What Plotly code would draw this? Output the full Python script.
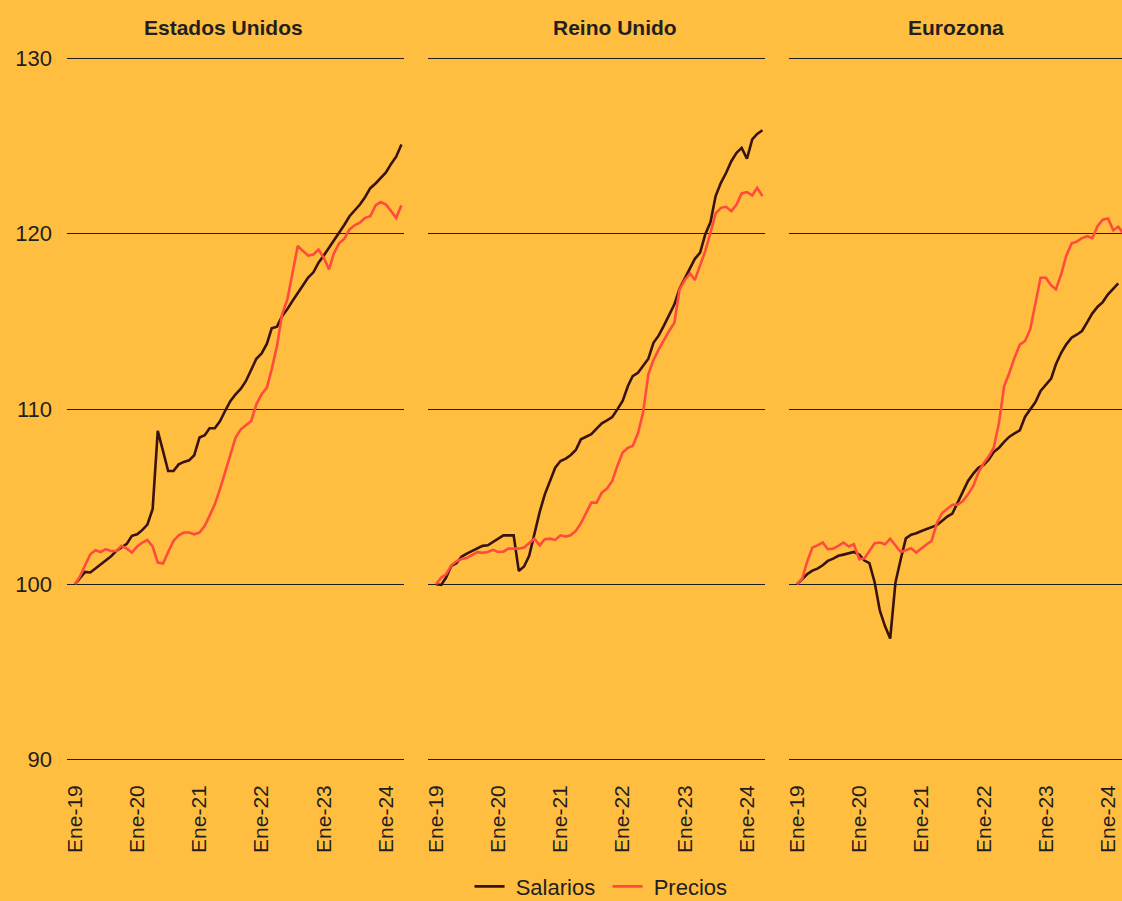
import pandas as pd
import plotly.graph_objects as go

# Monthly index, January 2019 = 100
meses = pd.date_range("2019-01-01", "2024-04-01", freq="MS")

paises = ["Estados Unidos", "Reino Unido", "Eurozona"]

salarios_eeuu = [
    100.0, 100.4, 100.7, 100.67, 100.9, 101.14, 101.37, 101.6, 101.9, 102.1,
    102.3, 102.76, 102.85, 103.1, 103.4, 104.3, 108.75, 107.6, 106.46, 106.46,
    106.84, 106.98, 107.07, 107.36, 108.37, 108.5, 108.9, 108.9, 109.3, 109.9,
    110.45, 110.84, 111.16, 111.6, 112.3, 112.87, 113.17, 113.73, 114.6, 114.7,
    115.3, 115.7, 116.16, 116.6, 117.07, 117.5, 117.8, 118.35, 118.76, 119.2,
    119.6, 120.06, 120.5, 121.0, 121.3, 121.67, 122.1, 122.6, 122.87, 123.2,
    123.5, 124.0, 124.4, 125.1,
]
precios_eeuu = [
    100.0, 100.48, 101.08, 101.71, 101.94, 101.84, 102.0, 101.9, 101.9, 102.19,
    102.03, 101.81, 102.15, 102.38, 102.53, 102.15, 101.24, 101.18, 101.84, 102.47,
    102.79, 102.95, 102.95, 102.85, 102.95, 103.33, 103.9, 104.56, 105.42, 106.37,
    107.41, 108.37, 108.84, 109.07, 109.32, 110.27, 110.84, 111.22, 112.26, 113.59,
    115.4, 116.25, 117.78, 119.3, 119.01, 118.76, 118.82, 119.1, 118.63, 117.97,
    118.88, 119.45, 119.71, 120.25, 120.48, 120.63, 120.91, 121.0, 121.62, 121.81,
    121.67, 121.29, 120.91, 121.62,
]

salarios_ru = [
    100.0, 99.96, 100.38, 101.05, 101.2, 101.58, 101.75, 101.9, 102.09, 102.19,
    102.22, 102.41, 102.6, 102.79, 102.79, 102.79, 100.76, 101.01, 101.62, 102.85,
    104.13, 105.13, 105.89, 106.65, 107.03, 107.17, 107.36, 107.66, 108.27, 108.4,
    108.56, 108.88, 109.18, 109.35, 109.54, 109.98, 110.46, 111.31, 111.88, 112.07,
    112.45, 112.87, 113.78, 114.2, 114.77, 115.4, 115.97, 116.86, 117.43, 118.0,
    118.57, 118.92, 119.96, 120.67, 122.15, 122.91, 123.48, 124.14, 124.62, 124.9,
    124.28, 125.38, 125.7, 125.91,
]
precios_ru = [
    100.0, 100.38, 100.57, 101.08, 101.31, 101.44, 101.5, 101.65, 101.83, 101.79,
    101.84, 101.96, 101.84, 101.86, 102.03, 102.03, 102.03, 102.09, 102.34, 102.6,
    102.22, 102.57, 102.6, 102.53, 102.79, 102.72, 102.79, 103.04, 103.48, 104.13,
    104.66, 104.66, 105.23, 105.46, 105.89, 106.75, 107.51, 107.78, 107.89, 108.61,
    109.79, 111.98, 112.79, 113.4, 113.97, 114.45, 114.92, 116.82, 117.36, 117.74,
    117.36, 118.16, 119.01, 120.06, 121.16, 121.48, 121.54, 121.29, 121.67, 122.3,
    122.38, 122.19, 122.62, 122.15,
]

salarios_ez = [
    100.0, 100.29, 100.57, 100.78, 100.89, 101.08, 101.33, 101.46, 101.62, 101.69,
    101.77, 101.84, 101.7, 101.35, 101.2, 100.1, 98.5, 97.6, 96.9, 100.1,
    101.43, 102.62, 102.83, 102.91, 103.04, 103.16, 103.27, 103.37, 103.61, 103.86,
    104.03, 104.66, 105.32, 105.89, 106.31, 106.65, 106.81, 107.13, 107.55, 107.79,
    108.12, 108.42, 108.61, 108.78, 109.56, 109.98, 110.4, 111.03, 111.35, 111.73,
    112.55, 113.21, 113.69, 114.07, 114.24, 114.45, 114.96, 115.46, 115.84, 116.1,
    116.54, 116.86, 117.17,
]
precios_ez = [
    100.0, 100.32, 101.27, 102.09, 102.22, 102.38, 102.0, 102.03, 102.19, 102.38,
    102.15, 102.28, 101.43, 101.48, 101.9, 102.34, 102.38, 102.28, 102.6, 102.19,
    101.84, 101.94, 102.05, 101.81, 102.07, 102.28, 102.47, 103.48, 104.05, 104.32,
    104.54, 104.54, 104.75, 105.13, 105.61, 106.37, 106.9, 107.32, 107.79, 109.22,
    111.31, 112.07, 112.93, 113.67, 113.88, 114.54, 115.97, 117.49, 117.49, 117.05,
    116.83, 117.7, 118.75, 119.45, 119.55, 119.75, 119.86, 119.75, 120.45, 120.8,
    120.87, 120.2, 120.4, 120.0,
]

ticks_y = [90, 100, 110, 120, 130]
ticks_x = pd.date_range("2019-01-01", "2024-01-01", freq="YS")
etiquetas_x = ["Ene-19", "Ene-20", "Ene-21", "Ene-22", "Ene-23", "Ene-24"]

FONDO = "#FFBE3F"
COLOR_SAL = "#3A1210"
COLOR_PRE = "#FF4B3E"
TEXTO = "#231F20"
FUENTE = "Liberation Sans, Arial, sans-serif"

W, H = 1122, 901
dominios = [(67 / W, 404 / W), (428 / W, 765 / W), (789 / W, 1.0)]
rangos_x = [
    ("2018-11-15", "2024-04-16"),
    ("2018-11-15", "2024-04-16"),
    ("2018-11-15", "2024-03-23"),
]
titulo_x = [223 / W, 614.5 / W, 956 / W]

series = [
    (salarios_eeuu, precios_eeuu),
    (salarios_ru, precios_ru),
    (salarios_ez, precios_ez),
]

fig = go.Figure()
for i, (sal, pre) in enumerate(series):
    sufijo = "" if i == 0 else str(i + 1)
    fig.add_trace(go.Scatter(
        x=meses[:len(sal)], y=sal, mode="lines", name=" Salarios",
        line=dict(color=COLOR_SAL, width=2.6),
        xaxis="x" + sufijo, yaxis="y" + sufijo,
        showlegend=(i == 0), legendgroup="sal",
    ))
    fig.add_trace(go.Scatter(
        x=meses[:len(pre)], y=pre, mode="lines", name=" Precios",
        line=dict(color=COLOR_PRE, width=2.6),
        xaxis="x" + sufijo, yaxis="y" + sufijo,
        showlegend=(i == 0), legendgroup="pre",
    ))

ejes = {}
for i in range(3):
    sufijo = "" if i == 0 else str(i + 1)
    ejes["xaxis" + sufijo] = dict(
        domain=list(dominios[i]), anchor="y" + sufijo, type="date",
        range=list(rangos_x[i]), tickvals=list(ticks_x), ticktext=etiquetas_x,
        tickangle=-90, showgrid=False, zeroline=False, showline=False,
        ticks="", ticklabelstandoff=3, automargin=False,
        tickfont=dict(family=FUENTE, size=21, color=TEXTO),
    )
    ejes["yaxis" + sufijo] = dict(
        domain=[0, 1], anchor="x" + sufijo, range=[89, 131],
        tickvals=ticks_y, showticklabels=(i == 0),
        showgrid=True, gridcolor="#1E1E1E", gridwidth=1,
        zeroline=False, showline=False, ticks="", ticklabelstandoff=14,
        automargin=False,
        tickfont=dict(family=FUENTE, size=22, color=TEXTO),
    )

fig.update_layout(
    width=W, height=H,
    paper_bgcolor=FONDO, plot_bgcolor=FONDO,
    margin=dict(l=0, r=0, t=41, b=124, pad=0, autoexpand=False),
    font=dict(family=FUENTE, size=21, color=TEXTO),
    showlegend=True,
    legend=dict(
        orientation="h", x=0.5415, xanchor="center",
        yref="container", y=0.016, yanchor="middle",
        font=dict(family=FUENTE, size=22, color=TEXTO),
        bgcolor="rgba(0,0,0,0)", itemwidth=30,
        entrywidth=93, entrywidthmode="pixels",
    ),
    annotations=[
        dict(text="<b>%s</b>" % p, x=titulo_x[i], xref="paper", xanchor="center",
             y=1 + (41 - 28) / 736, yref="paper", yanchor="middle",
             showarrow=False, font=dict(family=FUENTE, size=21, color=TEXTO))
        for i, p in enumerate(paises)
    ],
    **ejes,
)

fig.write_html("out.html")
